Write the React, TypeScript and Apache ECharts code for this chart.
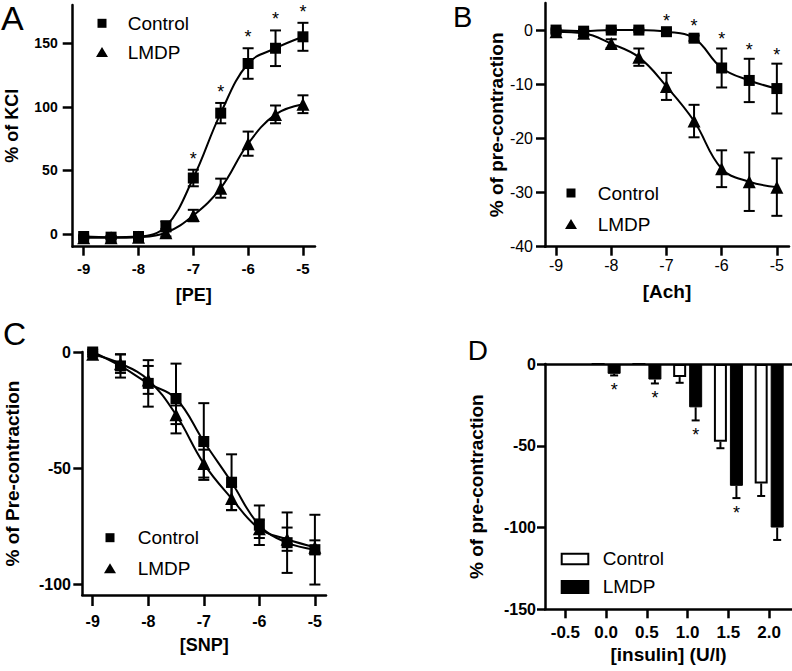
import React, { useEffect, useRef } from "react";
import * as echarts from "echarts";

const FONT = '"Liberation Sans", Arial, Helvetica, sans-serif';

// ---- Shared log-dose axis (panels A-C)
const doseLog = [-9, -8.5, -8, -7.5, -7, -6.5, -6, -5.5, -5];
const doseTicks = [-9, -8, -7, -6, -5];

// ---- Panel A: PE (% of KCl)
const peControl = [-2, -2.5, -2, 6, 44, 95, 134, 146, 155];
const peControlSem = [1, 1, 1, 4, 6.5, 8, 12, 14, 11];
const peLmdp = [-3, -3, -2.5, 1, 14.5, 36, 71, 94, 102];
const peLmdpSem = [1, 1, 1, 3, 4.5, 7.5, 9.5, 7, 7];
const peStarIdx = [4, 5, 6, 7, 8];
const peYTicks = [0, 50, 100, 150];

// ---- Panel B: Ach (% of pre-contraction)
const achControl = [0, -0.2, 0, 0, -0.3, -1.5, -7, -9.3, -10.8];
const achControlSem = [0.3, 0.3, 0.3, 0.3, 0.4, 0.5, 3.6, 4, 4.6];
const achLmdp = [-0.3, -0.6, -2.5, -5, -10.4, -16.8, -25.6, -28, -29];
const achLmdpSem = [0.3, 0.5, 0.8, 1.6, 2.5, 3, 3.4, 5.4, 5.3];
const achStarIdx = [4, 5, 6, 7, 8];
const achYTicks = [-40, -30, -20, -10, 0];

// ---- Panel C: SNP (% of Pre-contraction)
const snpControl = [0, -6, -13.5, -20, -38.5, -56, -74.5, -82, -85];
const snpControlSem = [1, 5, 10, 15, 16.5, 12, 8.5, 13, 15];
const snpLmdp = [-1, -5, -12, -27, -48, -63, -76, -80.5, -84];
const snpLmdpSem = [1, 4, 6, 4, 6, 5, 4, 5, 3];
const snpYTicks = [-100, -50, 0];

// ---- Panel D: insulin (bars)
const insulinLog = [0, 0.5, 1.0, 1.5, 2.0];
const insulinTicks = [-0.5, 0, 0.5, 1.0, 1.5, 2.0];
const insControl = [0, 0, -8, -47.5, -73];
const insControlSem = [0, 0, 3.5, 4, 7.7];
const insLmdp = [-6, -9.5, -26.5, -74.5, -100];
const insLmdpSem = [1, 2.4, 8, 7.5, 7.6];
const insStarIdx = [0, 1, 2, 3];
const insYTicks = [-150, -100, -50, 0];

const BAR_W = 13;
const BAR_GAP = 3;

function xAxisCfg(gi: number, min: number, max: number, ticks: number[], name: string, nameGap: number,
  lblSize: number, lblBold: boolean, lblMargin: number, tickLen: number, nameSize: number, fmt?: (v: number) => string) {
  const label: any = {
    show: true, customValues: ticks, margin: lblMargin, color: "#000", fontFamily: FONT,
    fontSize: lblSize, fontWeight: lblBold ? "bold" : "normal",
  };
  if (fmt) label.formatter = fmt;
  return {
    type: "value", gridIndex: gi, min, max, position: "bottom",
    axisLine: { show: true, onZero: false, lineStyle: { color: "#000", width: 2.5 } },
    axisTick: { show: true, customValues: ticks, length: tickLen, lineStyle: { color: "#000", width: 2.5 } },
    axisLabel: label,
    splitLine: { show: false },
    name, nameLocation: "middle", nameGap,
    nameTextStyle: { color: "#000", fontFamily: FONT, fontSize: nameSize, fontWeight: "bold" },
  };
}

function yAxisCfg(gi: number, min: number, max: number, ticks: number[], name: string, nameGap: number,
  lblSize: number, lblBold: boolean, lblMargin: number, tickLen: number, nameSize: number) {
  return {
    type: "value", gridIndex: gi, min, max, position: "left",
    axisLine: { show: true, onZero: false, lineStyle: { color: "#000", width: 2.5 } },
    axisTick: { show: true, customValues: ticks, length: tickLen, lineStyle: { color: "#000", width: 2.5 } },
    axisLabel: {
      show: true, customValues: ticks, margin: lblMargin, color: "#000", fontFamily: FONT,
      fontSize: lblSize, fontWeight: lblBold ? "bold" : "normal",
    },
    splitLine: { show: false },
    name, nameLocation: "middle", nameGap, nameRotate: 90,
    nameTextStyle: { color: "#000", fontFamily: FONT, fontSize: nameSize, fontWeight: "bold" },
  };
}

function lineSeries(gi: number, name: string, vals: number[], symbol: string, size: number) {
  return {
    type: "line", name, xAxisIndex: gi, yAxisIndex: gi,
    data: doseLog.map((x, i) => [x, vals[i]]),
    symbol, symbolSize: size, showSymbol: true,
    smooth: 0.4,
    lineStyle: { color: "#000", width: 2 },
    itemStyle: { color: "#000" },
    z: 3,
  };
}

function errorSeries(xAxisIndex: number, yAxisIndex: number, xs: number[], vals: number[], sems: number[],
  capHalf: number, dxPx: number, downOnly: boolean) {
  return {
    type: "custom", xAxisIndex, yAxisIndex,
    data: xs.map((x, i) => [x, vals[i], sems[i]]),
    encode: { x: 0, y: 1 },
    z: 4,
    renderItem: (params: any, api: any) => {
      const x = api.value(0), y = api.value(1), e = api.value(2);
      if (!e) return { type: "group", children: [] };
      const top = api.coord([x, downOnly ? y : y + e]);
      const bot = api.coord([x, y - e]);
      const cx = top[0] + dxPx;
      const st = { stroke: "#000", lineWidth: 2 };
      const children: any[] = [
        { type: "line", shape: { x1: cx, y1: top[1], x2: cx, y2: bot[1] }, style: st },
        { type: "line", shape: { x1: cx - capHalf, y1: bot[1], x2: cx + capHalf, y2: bot[1] }, style: st },
      ];
      if (!downOnly) children.push({ type: "line", shape: { x1: cx - capHalf, y1: top[1], x2: cx + capHalf, y2: top[1] }, style: st });
      return { type: "group", children };
    },
  };
}

function starSeries(xAxisIndex: number, yAxisIndex: number, pts: number[][], offPx: number, dxPx: number) {
  return {
    type: "custom", xAxisIndex, yAxisIndex,
    data: pts, encode: { x: 0, y: 1 }, z: 5,
    renderItem: (params: any, api: any) => {
      const p = api.coord([api.value(0), api.value(1)]);
      return {
        type: "text", x: p[0] + dxPx, y: p[1] + offPx,
        style: { text: "*", fill: "#000", font: `18px ${FONT}`, align: "center", verticalAlign: "middle" },
      };
    },
  };
}

function legendMarkers(cx: number, y1: number, y2: number, tx: number) {
  return [
    { type: "rect", shape: { x: cx - 4.5, y: y1 - 4.5, width: 9, height: 9 }, style: { fill: "#000" } },
    { type: "polygon", shape: { points: [[cx - 6, y2 + 5], [cx + 6, y2 + 5], [cx, y2 - 5]] }, style: { fill: "#000" } },
    { type: "text", x: tx, y: y1, style: { text: "Control", fill: "#000", font: `19px ${FONT}`, align: "left", verticalAlign: "middle" } },
    { type: "text", x: tx, y: y2, style: { text: "LMDP", fill: "#000", font: `19px ${FONT}`, align: "left", verticalAlign: "middle" } },
  ];
}

function letter(t: string, x: number, y: number, size: number) {
  return { type: "text", x, y, style: { text: t, fill: "#000", font: `${size}px ${FONT}`, align: "left", verticalAlign: "middle" } };
}

export default function App() {
  const ref = useRef<HTMLDivElement>(null);
  useEffect(() => {
    if (!ref.current) return;
    const chart = echarts.init(ref.current, null, { renderer: "svg" });
    const dOff = (BAR_W + BAR_GAP) / 2;
    const option: any = {
      animation: false,
      backgroundColor: "#fff",
      grid: [
        { left: 72.7, top: 5, width: 242.3, height: 241.7, outerBoundsMode: "none" },
        { left: 545, top: 3, width: 244, height: 243.7, outerBoundsMode: "none" },
        { left: 82.3, top: 352, width: 243.7, height: 243, outerBoundsMode: "none" },
        { left: 545, top: 364, width: 247, height: 245.3, outerBoundsMode: "none" },
      ],
      xAxis: [
        xAxisCfg(0, -9.2, -4.78, doseTicks, "[PE]", 39, 15, true, 14, 9, 18),
        xAxisCfg(1, -9.2, -4.78, doseTicks, "[Ach]", 35, 16, false, 11, 9, 19),
        xAxisCfg(2, -9.187, -4.8, doseTicks, "[SNP]", 41, 16, true, 18, 11, 18),
        xAxisCfg(3, -0.75, 2.28, insulinTicks, "[insulin] (U/l)", 36, 17, true, 14.5, 9, 19, (v: number) => v.toFixed(1)),
        {
          type: "value", gridIndex: 3, min: -0.75, max: 2.28, position: "top",
          axisLine: { show: true, onZero: false, lineStyle: { color: "#000", width: 2.5 } },
          axisTick: { show: false }, axisLabel: { show: false }, splitLine: { show: false },
        },
      ],
      yAxis: [
        yAxisCfg(0, -10, 180, peYTicks, "% of KCl", 52, 14, true, 15, 10, 18),
        yAxisCfg(1, -40, 5, achYTicks, "% of pre-contraction", 35.5, 16, false, 12, 9, 19),
        yAxisCfg(2, -104.5, 0, snpYTicks, "% of Pre-contraction", 60, 16, true, 11.3, 9, 19),
        yAxisCfg(3, -150, 0, insYTicks, "% of pre-contraction", 59.5, 16, true, 9, 8, 19),
      ],
      series: [
        // A
        lineSeries(0, "Control", peControl, "rect", 11),
        lineSeries(0, "LMDP", peLmdp, "triangle", 13),
        errorSeries(0, 0, doseLog, peControl, peControlSem, 5.5, 0, false),
        errorSeries(0, 0, doseLog, peLmdp, peLmdpSem, 5.5, 0, false),
        starSeries(0, 0, peStarIdx.map((i) => [doseLog[i], peControl[i] + peControlSem[i]]), -11, 0),
        // B
        lineSeries(1, "Control", achControl, "rect", 11),
        lineSeries(1, "LMDP", achLmdp, "triangle", 13),
        errorSeries(1, 1, doseLog, achControl, achControlSem, 5.5, 0, false),
        errorSeries(1, 1, doseLog, achLmdp, achLmdpSem, 5.5, 0, false),
        starSeries(1, 1, achStarIdx.map((i) => [doseLog[i], achControl[i] + achControlSem[i]]), -9, 0),
        // C
        lineSeries(2, "Control", snpControl, "rect", 11),
        lineSeries(2, "LMDP", snpLmdp, "triangle", 13),
        errorSeries(2, 2, doseLog, snpControl, snpControlSem, 5.5, 0, false),
        errorSeries(2, 2, doseLog, snpLmdp, snpLmdpSem, 5.5, 0, false),
        // D
        {
          type: "bar", name: "Control", xAxisIndex: 3, yAxisIndex: 3,
          data: insulinLog.map((x, i) => [x, insControl[i]]),
          barWidth: BAR_W, barGap: `${(BAR_GAP / BAR_W) * 100}%`,
          itemStyle: { color: "#fff", borderColor: "#000", borderWidth: 2 },
        },
        {
          type: "bar", name: "LMDP", xAxisIndex: 3, yAxisIndex: 3,
          data: insulinLog.map((x, i) => [x, insLmdp[i]]),
          barWidth: BAR_W, barGap: `${(BAR_GAP / BAR_W) * 100}%`,
          itemStyle: { color: "#000", borderColor: "#000", borderWidth: 1 },
        },
        errorSeries(3, 3, insulinLog, insControl, insControlSem, 4, -dOff, true),
        errorSeries(3, 3, insulinLog, insLmdp, insLmdpSem, 4, dOff, true),
        starSeries(3, 3, insStarIdx.map((i) => [insulinLog[i], insLmdp[i] - insLmdpSem[i]]), 15, dOff),
      ],
      graphic: [
        letter("A", 1, 18, 34),
        letter("B", 453, 17, 29),
        letter("C", 3, 334, 32),
        letter("D", 467.7, 350, 28),
        ...legendMarkers(102, 23.3, 52, 127.7),
        ...legendMarkers(571, 193, 224, 597.7),
        ...legendMarkers(110, 537.7, 568.3, 137.7),
        { type: "rect", shape: { x: 561.7, y: 553.7, width: 26.6, height: 10.6 }, style: { fill: "#fff", stroke: "#000", lineWidth: 2 } },
        { type: "rect", shape: { x: 560.7, y: 580, width: 28.6, height: 14 }, style: { fill: "#000" } },
        { type: "text", x: 602.7, y: 558.3, style: { text: "Control", fill: "#000", font: `19px ${FONT}`, align: "left", verticalAlign: "middle" } },
        { type: "text", x: 602.7, y: 586.7, style: { text: "LMDP", fill: "#000", font: `19px ${FONT}`, align: "left", verticalAlign: "middle" } },
      ],
    };
    chart.setOption(option);
    return () => chart.dispose();
  }, []);
  return <div ref={ref} style={{ position: "fixed", left: 0, top: 0, width: 792, height: 671, background: "#fff" }} />;
}
